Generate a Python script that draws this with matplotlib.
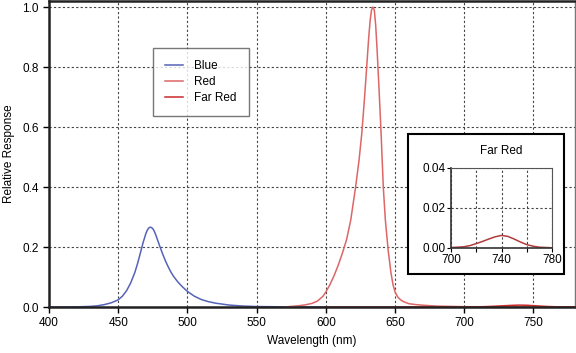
import matplotlib
matplotlib.use("Agg")
import matplotlib.pyplot as plt
from matplotlib.patches import Rectangle

plt.rcParams['font.family'] = ['Liberation Sans', 'DejaVu Sans']

# spectra (wavelength nm, relative response)
blue_wl = [400, 420, 430, 435, 440, 445, 450, 453, 456, 459, 462, 464, 466, 468,
           470, 471, 472, 473, 474, 475, 476, 477, 478, 480, 482, 484, 486, 488,
           490, 493, 496, 500, 505, 510, 515, 520, 530, 540, 550, 570, 600]
blue_val = [0.0, 0.0005, 0.002, 0.004, 0.008, 0.014, 0.024, 0.036, 0.054, 0.08,
            0.115, 0.145, 0.18, 0.215, 0.245, 0.256, 0.263, 0.266, 0.265, 0.261,
            0.253, 0.242, 0.229, 0.203, 0.178, 0.155, 0.135, 0.117, 0.102, 0.084,
            0.069, 0.052, 0.036, 0.025, 0.018, 0.013, 0.0065, 0.0032, 0.0015,
            0.0005, 0.0]

red_wl = [570, 580, 585, 590, 594, 598, 600, 603, 606, 609, 612, 615, 618, 621.5,
          624, 626, 628, 629.5, 631, 632, 633, 634, 635, 636, 637, 638.5, 640,
          641.5, 643, 645, 647, 648.5, 650, 652, 654, 656, 660, 665, 670, 680,
          700, 780]
red_val = [0.0, 0.004, 0.007, 0.012, 0.02, 0.036, 0.05, 0.075, 0.105, 0.14, 0.18,
           0.225, 0.29, 0.4, 0.49, 0.58, 0.7, 0.8, 0.9, 0.955, 0.99, 1.0, 0.99,
           0.94, 0.86, 0.72, 0.57, 0.4, 0.29, 0.19, 0.115, 0.075, 0.05, 0.033,
           0.024, 0.018, 0.011, 0.008, 0.006, 0.003, 0.001, 0.0]

farred_wl = [600, 650, 700, 710, 715, 720, 725, 730, 735, 740, 745, 750, 755, 760,
             765, 770, 780]
farred_val = [0.0, 0.0, 0.0002, 0.0006, 0.0012, 0.0022, 0.0033, 0.0045, 0.0056,
              0.0063, 0.0058, 0.0045, 0.003, 0.0017, 0.0009, 0.0004, 0.0001]

x_ticks = [400, 450, 500, 550, 600, 650, 700, 750]
y_ticks = [0.0, 0.2, 0.4, 0.6, 0.8, 1.0]
inset_x_ticks = [700, 720, 740, 760, 780]
inset_x_labels = ['700', '', '740', '', '780']
inset_y_ticks = [0.0, 0.02, 0.04]

BLUE = '#5563b8'
RED = '#dd6666'
FARRED = '#cc2a2a'
GRID = dict(color='#444444', linestyle=(0, (2, 2)), linewidth=0.8)

fig = plt.figure(figsize=(5.76, 3.53), dpi=100)
ax = fig.add_axes([49 / 576, 46 / 353, 526 / 576, 306 / 353])

ax.plot(blue_wl, blue_val, color=BLUE, lw=1.1, label='Blue')
ax.plot(red_wl, red_val, color=RED, lw=1.1, label='Red')
ax.plot(farred_wl, farred_val, color=FARRED, lw=1.1, label='Far Red')

ax.set_xlim(400, 780)
ax.set_ylim(0, 1.02)
ax.set_xticks(x_ticks)
ax.set_yticks(y_ticks)
ax.set_yticklabels([f'{v:.1f}' for v in y_ticks])
ax.grid(True, **GRID)
ax.tick_params(direction='out', length=4, width=1, labelsize=8.5, colors='black')
ax.set_xlabel('Wavelength (nm)', fontsize=8.5, labelpad=4)
ax.set_ylabel('Relative Response', fontsize=8.5, labelpad=5)
for s in ('left', 'bottom', 'top'):
    ax.spines[s].set_linewidth(1.8)
    ax.spines[s].set_color('#222222')
ax.spines['right'].set_color('#777777')
ax.spines['right'].set_linewidth(1.0)

leg = ax.legend(loc='upper left', bbox_to_anchor=(104 / 526, 259 / 306),
                frameon=True, fancybox=False, fontsize=8.5, handlelength=1.5,
                borderpad=1.0, labelspacing=0.35, handletextpad=1.0,
                borderaxespad=0)
leg.get_frame().set_edgecolor('#555555')
leg.get_frame().set_linewidth(1.0)

# inset box and axes
fig.patches.append(Rectangle((408 / 576, 79 / 353), 156 / 576, 140 / 353,
                             transform=fig.transFigure, facecolor='white',
                             edgecolor='black', linewidth=1.5, zorder=5))
ins = fig.add_axes([451 / 576, 105 / 353, 101 / 576, 80 / 353], zorder=6)
ins.plot(farred_wl, farred_val, color='#b03c3c', lw=1.1)
ins.set_xlim(700, 780)
ins.set_ylim(0, 0.04)
ins.set_xticks(inset_x_ticks)
ins.set_xticklabels(inset_x_labels)
ins.set_yticks(inset_y_ticks)
ins.set_yticklabels([f'{v:.2f}' for v in inset_y_ticks])
ins.grid(True, **GRID)
ins.tick_params(direction='out', length=3, labelsize=8.5, pad=1)
ins.set_title('Far Red', fontsize=8.5, pad=10)
for s in ('left', 'bottom'):
    ins.spines[s].set_color('#333333')
    ins.spines[s].set_linewidth(1.2)
for s in ('top', 'right'):
    ins.spines[s].set_color('#555555')
    ins.spines[s].set_linewidth(0.8)

fig.savefig('out.png', dpi=100)
